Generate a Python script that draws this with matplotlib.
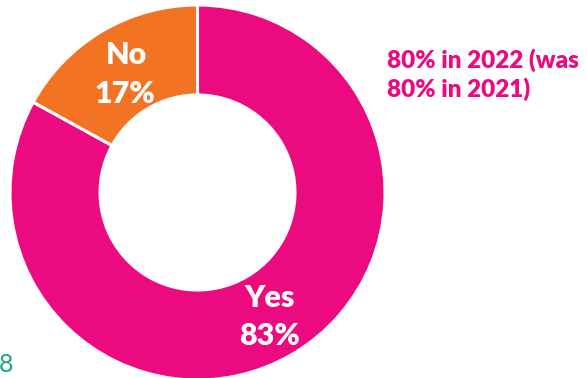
import matplotlib
matplotlib.use("Agg")
import matplotlib.pyplot as plt

# Survey answer shares
labels = ["Yes", "No"]
shares = [83, 17]
colors = ["#EC0A80", "#F37325"]
note_lines = ["80% in 2022 (was", "80% in 2021)"]

W, H = 587, 378
fig = plt.figure(figsize=(W / 100, H / 100), dpi=100)
ax = fig.add_axes([0, 0, 1, 1])

cx, cy, r = 197.5, H - 192.5, 187.5
ax.pie(shares, colors=colors, startangle=90, counterclock=False,
       center=(cx, cy), radius=r, frame=True,
       wedgeprops=dict(width=r * 0.48, edgecolor="white", linewidth=2.2))
ax.set_xlim(0, W)
ax.set_ylim(0, H)
ax.set_aspect("equal")
ax.axis("off")

font = ["Lato", "DejaVu Sans"]
big = dict(color="white", fontsize=22, fontweight="heavy", family=font,
           ha="center", va="center")
ax.text(126, H - 55, labels[1], **big)
ax.text(125, H - 94, f"{shares[1]}%", **big)
ax.text(270, H - 298, labels[0], **big)
ax.text(269, H - 336, f"{shares[0]}%", **big)

note = dict(color="#EC0A80", fontsize=17.5, fontweight="heavy", family=font,
            ha="left", va="center")
ax.text(387, H - 60, note_lines[0], **note)
ax.text(387, H - 89, note_lines[1], **note)

ax.text(-1, H - 364, "8", color="#1AA58C", fontsize=18, fontweight="normal",
        family=font, ha="left", va="center")

fig.savefig("out.png", dpi=100)
